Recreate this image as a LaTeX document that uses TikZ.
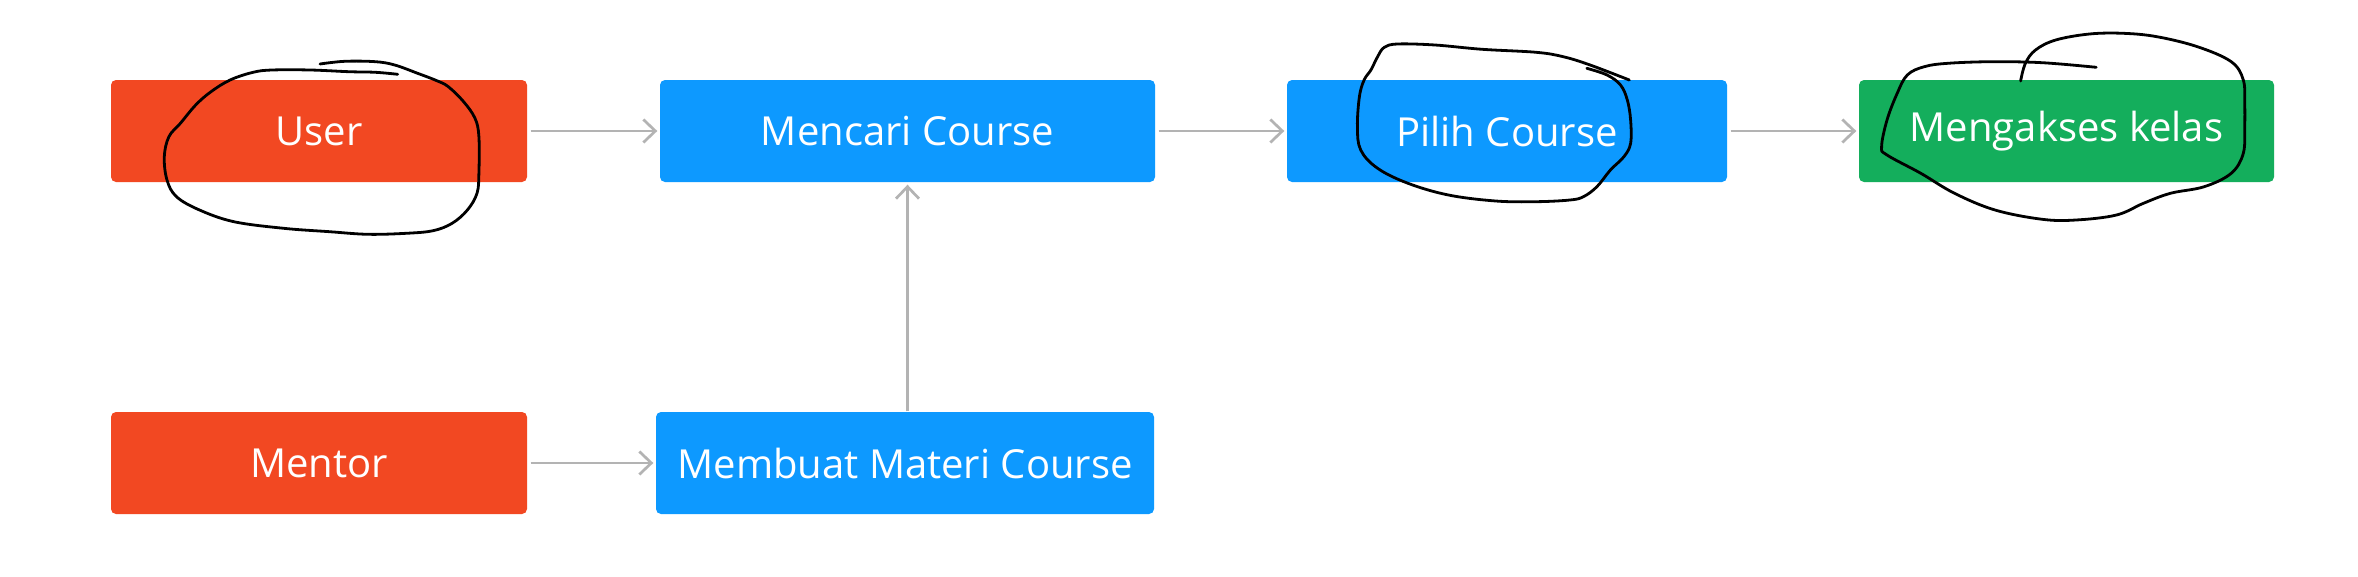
\documentclass[tikz,border=0pt]{standalone}
\usepackage{fontspec}
\setmainfont{Open Sans}
\usetikzlibrary{arrows.meta}
\definecolor{figred}{HTML}{F24822}
\definecolor{figblue}{HTML}{0D99FF}
\definecolor{figgreen}{HTML}{14AE5C}
\definecolor{arrowgray}{HTML}{B3B3B3}
\begin{document}
\begin{tikzpicture}[x=1pt,y=-1pt,
  box/.style={rounded corners=5pt, inner sep=0pt, minimum height=102pt, text=white,
    font=\fontsize{40}{48}\selectfont},
  redbox/.style={box, fill=figred},
  bluebox/.style={box, fill=figblue},
  greenbox/.style={box, fill=figgreen},
  conn/.style={draw=arrowgray, line width=2.7pt, -{Straight Barb[length=12pt,width=23pt,line width=2.7pt]},
    shorten <=3.5pt, shorten >=2.5pt},
  scribble/.style={draw=black, line width=2.8pt, line cap=round, line join=round}]
\useasboundingbox[fill=white] (0,0) rectangle (2358,576);

\node[redbox, minimum width=416pt] (user) at (319,131) {User};
\node[bluebox, minimum width=495pt] (mencari) at (907.5,131) {Mencari Course};
\node[bluebox, minimum width=440pt] (pilih) at (1507,131) {Pilih Course};
\node[greenbox, minimum width=415pt] (akses) at (2066.5,131) {Mengakses kelas};
\node[redbox, minimum width=416pt] (mentor) at (319,463) {Mentor};
\node[bluebox, minimum width=498pt] (membuat) at (905,463) {Membuat Materi Course};

\coordinate (mbtop) at (mencari.south |- membuat.north);
\draw[conn] (user) -- (mencari);
\draw[conn] (mencari) -- (pilih);
\draw[conn] (pilih) -- (akses);
\draw[conn] (mentor) -- (membuat);
\draw[conn, shorten <=0.5pt] (mbtop) -- (mencari.south);

% hand-drawn scribbles
\draw[scribble] plot[smooth, tension=0.6] coordinates {
 (320.0,64.0) (344.9,61.3) (375.5,61.7) (394.7,65) (417.6,73.3) (436.8,80.7)
 (448.3,86.7) (463.6,101.7) (475.0,118.3) (478.9,136.7) (478.9,173.3) (477.0,193.3)
 (467.4,210) (452.1,223.3) (433.0,230.7) (406.2,233.3) (367.9,234.3) (329.6,231.7)
 (283.7,228.3) (233.9,221.7) (199.5,210) (176.5,196.7) (167.0,180) (164.3,156.7)
 (168.9,136.7) (180.4,123.3) (195.7,105) (211.0,91.7) (230.1,80) (253.1,72.3)
 (272.2,70) (310.5,70) (348.8,71.7) (375.5,72.3) (397.7,74.3)};

\draw[scribble] plot[smooth, tension=0.6] coordinates {
 (1586.8,68.3) (1607.0,75) (1620.5,85) (1627.3,100) (1630.6,120) (1630.6,143.3)
 (1623.9,156.7) (1610.4,170) (1596.9,186.7) (1583.4,196.7) (1569.9,200) (1536.2,201.7)
 (1495.7,201) (1448.4,195) (1408.0,183.3) (1377.6,168.3) (1360.7,150) (1357.4,126.7)
 (1359.4,96.7) (1364.1,80) (1370.9,70) (1377.6,56.7) (1384.3,47.3) (1397.8,44)
 (1435.0,45) (1482.2,49.3) (1536.2,52.3) (1563.2,56.7) (1590.1,65) (1629.3,80)};

\draw[scribble] plot[smooth, tension=0.6] coordinates {
 (2020.6,81) (2025.4,63.3) (2035.5,50) (2055.7,40) (2089.5,34) (2123.2,33.3)
 (2156.9,36.7) (2197.4,46.7) (2231.2,61.7) (2243.3,80) (2244.7,103.3) (2244.7,126.7)
 (2243.3,153.3) (2231.2,173.3) (2204.2,186.7) (2170.4,193.3) (2143.4,203.3) (2116.5,215)
 (2076.0,220) (2042.2,219.3) (1995.0,210) (1954.5,193.3) (1920.8,173.3) (1887.0,155)
 (1881.6,146.7) (1887.0,120) (1897.2,93.3) (1907.3,75) (1924.2,66.7) (1947.8,63.3)
 (1991.8,61.7) (2042.2,62.7) (2096.2,67.3)};
\end{tikzpicture}
\end{document}
